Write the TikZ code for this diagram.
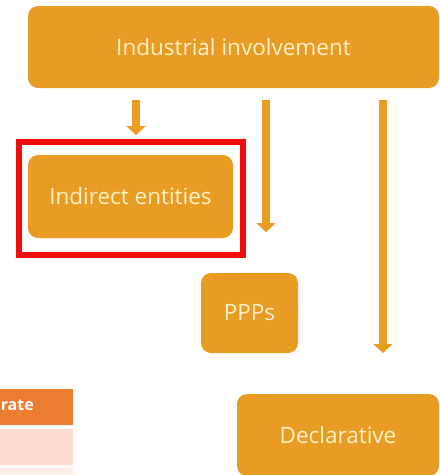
\documentclass[tikz,border=0pt]{standalone}
\usepackage{fontspec}
\setmainfont{Open Sans}
\usetikzlibrary{arrows.meta}
\definecolor{boxor}{HTML}{E99C24}
\definecolor{txtyel}{HTML}{FFF0C8}
\definecolor{hdror}{HTML}{ED7D31}
\definecolor{rowpink}{HTML}{FADCD0}
\definecolor{rowlight}{HTML}{FDEFE8}
\definecolor{hlred}{HTML}{F20D0D}
\tikzset{
  box/.style={fill=boxor, rounded corners=10pt, inner sep=0pt, text=txtyel, font=\fontsize{22.5}{26}\selectfont},
  arr/.style={draw=boxor, line width=8pt, -{Triangle[width=19pt,length=9pt]}},
}
\begin{document}
\begin{tikzpicture}[x=1pt,y=-1pt]
\useasboundingbox (0,0) rectangle (440,475);
\fill[white] (0,0) rectangle (440,475);
% table fragment
\fill[hdror] (0,389) rectangle (73,425);
\fill[rowpink] (0,429) rectangle (73,465);
\fill[rowlight] (0,468) rectangle (73,476);
\node[anchor=east, text=white, font=\bfseries\fontsize{16}{19}\selectfont, inner sep=0pt] (hdr) at (34,405) {rate};
% boxes
\node[box, minimum width=411pt, minimum height=82pt] (top) at (233.5,47) {Industrial involvement};
\node[box, minimum width=205pt, minimum height=83pt] (ind) at (130.5,196.5) {Indirect entities};
\node[box, minimum width=97pt, minimum height=80pt] (ppp) at (249.5,313) {PPPs};
\node[box, minimum width=202pt, minimum height=82pt] (dec) at (338,435) {Declarative};
\draw[hlred, line width=6pt] (19,142) rectangle (243,255);
% arrows
\coordinate (a1s) at (136,100); \coordinate (a1e) at (136,135);
\coordinate (a2s) at (266,100); \coordinate (a2e) at (266,232);
\coordinate (a3s) at (383,100); \coordinate (a3e) at (383,353);
\draw[arr] (a1s) -- (a1e);
\draw[arr] (a2s) -- (a2e);
\draw[arr] (a3s) -- (a3e);
\end{tikzpicture}
\end{document}
